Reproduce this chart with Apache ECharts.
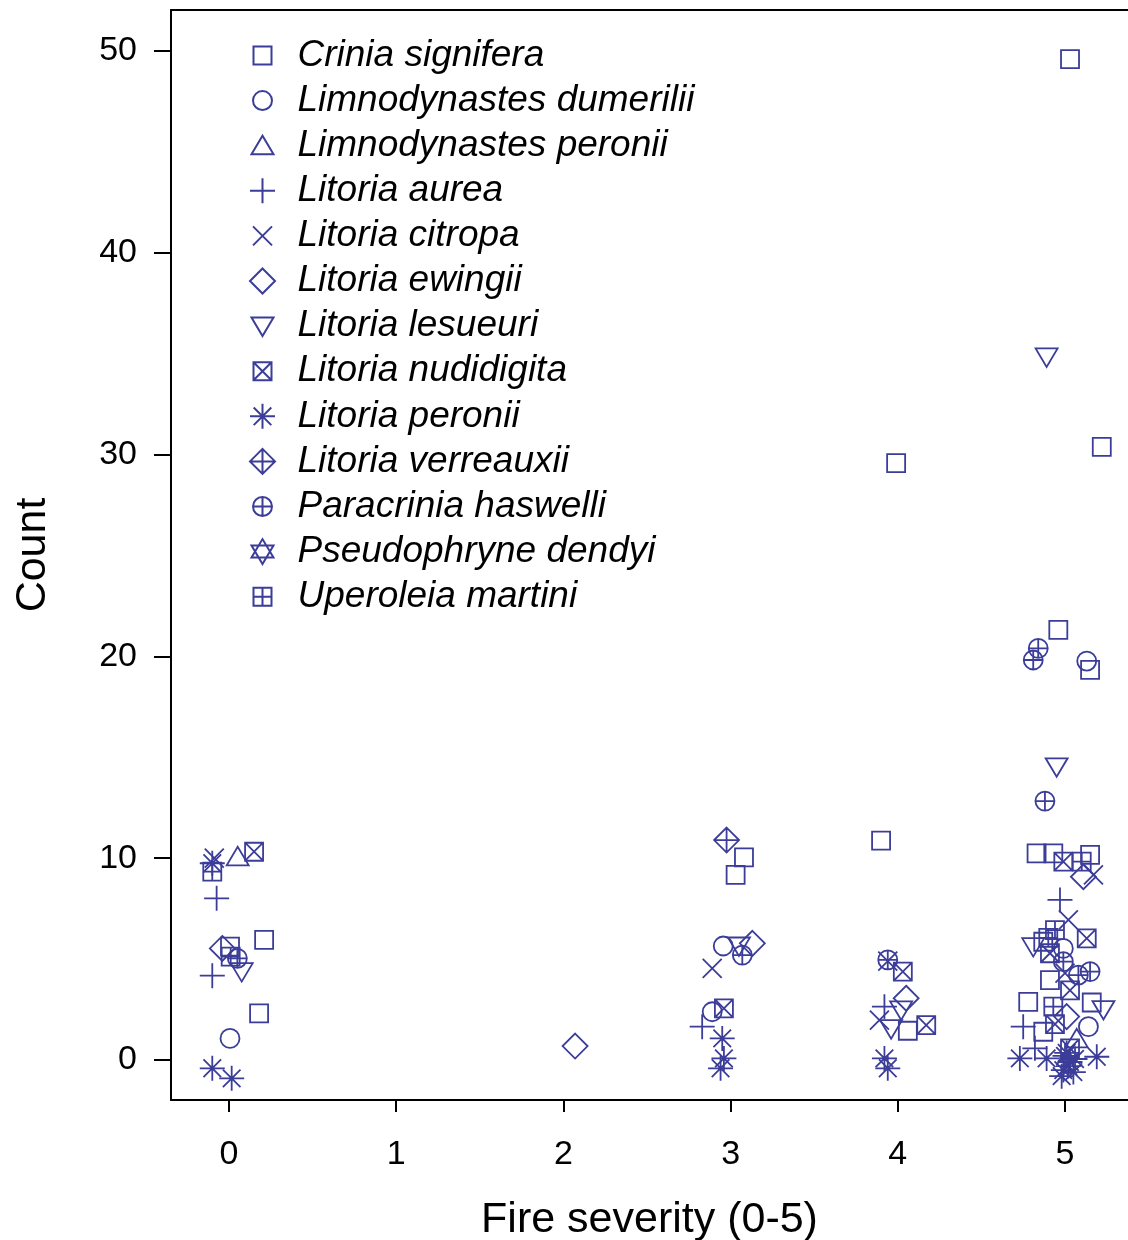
<!DOCTYPE html>
<html>
<head>
<meta charset="utf-8">
<script src="https://cdn.jsdelivr.net/npm/echarts@6/dist/echarts.min.js"></script>
<style>
html,body{margin:0;padding:0;background:#fff;}
#chart{width:1128px;height:1240px;}
</style>
</head>
<body>
<div id="chart"></div>
<script>
// ---- data (x = jittered fire severity, y = jittered count) ----
const xTicks = [0, 1, 2, 3, 4, 5];
const yTicks = [0, 10, 20, 30, 40, 50];
const speciesNames = ['Crinia signifera','Limnodynastes dumerilii','Limnodynastes peronii','Litoria aurea','Litoria citropa','Litoria ewingii','Litoria lesueuri','Litoria nudidigita','Litoria peronii','Litoria verreauxii','Paracrinia haswelli','Pseudophryne dendyi','Uperoleia martini'];

const criniaSignifera = [[0.21,5.95],[0.006,5.62],[0.18,2.31],[3.08,10.04],[3.03,9.17],[3.90,10.87],[3.99,29.58],[4.06,1.45],[5.03,49.6],[5.22,30.38],[4.96,21.31],[5.15,19.33],[4.83,10.24],[4.93,10.24],[5.15,10.16],[4.87,5.86],[4.91,3.96],[4.78,2.88],[5.16,2.85],[4.87,1.4]];
const limnodynastesDumerilii = [[0.006,1.07],[2.956,5.65],[2.89,2.39],[5.13,19.77],[4.99,5.53],[5.14,1.65]];
const limnodynastesPeronii = [[0.052,10.07],[5.07,1.05]];
const litoriaAurea = [[-0.074,8.01],[-0.10,4.18],[2.83,1.65],[3.92,2.64],[4.97,7.93],[4.75,1.65],[4.82,0.58]];
const litoriaCitropa = [[-0.088,10.0],[2.89,4.54],[3.89,1.98],[3.94,4.9],[5.17,9.17],[5.02,6.94],[5.0,4.3]];
const litoriaEwingii = [[-0.04,5.53],[2.07,0.69],[3.13,5.78],[4.05,3.06],[5.11,9.08],[5.01,2.15]];
const litoriaLesueuri = [[0.076,4.38],[3.05,5.65],[4.02,2.48],[3.96,1.55],[4.89,34.84],[4.95,14.53],[4.81,5.62],[5.23,2.5]];
const litoriaNudidigita = [[0.15,10.32],[2.96,2.56],[4.03,4.38],[4.17,1.73],[4.99,9.83],[5.13,6.03],[4.91,5.29],[5.03,3.45],[4.94,1.78],[5.03,0.58]];
const litoriaPeronii = [[-0.10,9.75],[-0.10,-0.41],[0.016,-0.91],[2.95,1.07],[2.96,0.08],[2.94,-0.41],[3.92,0.08],[3.94,-0.41],[4.73,0.08],[4.89,0.08],[5.19,0.16],[5.0,0.2],[5.03,-0.1],[5.06,0.05],[4.99,-0.5],[5.02,-0.3],[4.98,-0.8],[5.05,-0.6],[5.01,0.35]];
const litoriaVerreauxii = [[2.976,10.9]];
const paracriniaHaswelli = [[0.05,5.04],[3.07,5.2],[3.94,4.96],[4.84,20.4],[4.81,19.82],[4.88,12.83],[4.99,4.87],[5.08,4.21],[5.15,4.38]];
const pseudophryneDendyi = [];
const uperoleiaMartini = [[-0.10,9.33],[0.01,5.12],[5.10,9.83],[4.94,6.44],[4.90,6.05],[4.93,2.64]];

const speciesData = [criniaSignifera, limnodynastesDumerilii, limnodynastesPeronii, litoriaAurea, litoriaCitropa, litoriaEwingii, litoriaLesueuri, litoriaNudidigita, litoriaPeronii, litoriaVerreauxii, paracriniaHaswelli, pseudophryneDendyi, uperoleiaMartini];

// ---- symbols (R pch 0..12), drawn in a common 26x26 frame ----
const F = 'M0 0M26 26';
const SQ = 'M4 4L22 4L22 22L4 22Z';
const CI = 'M22.5 13A9.5 9.5 0 1 1 3.5 13A9.5 9.5 0 1 1 22.5 13Z';
const DI = 'M13 0.5L25.5 13L13 25.5L0.5 13Z';
const symbols = [
  F + SQ,
  F + CI,
  F + 'M2 21.5L24 21.5L13 3L2 21.5Z',
  F + 'M13 0.5L13 25.5M0.5 13L25.5 13',
  F + 'M3.5 3.5L22.5 22.5M22.5 3.5L3.5 22.5',
  F + DI,
  F + 'M2 4.5L24 4.5L13 23L2 4.5Z',
  F + SQ + 'M4 4L22 22M22 4L4 22',
  F + 'M13 0.5L13 25.5M0.5 13L25.5 13M4.2 4.2L21.8 21.8M21.8 4.2L4.2 21.8',
  F + DI + 'M13 0.5L13 25.5M0.5 13L25.5 13',
  F + CI + 'M13 3.5L13 22.5M3.5 13L22.5 13',
  F + 'M2 19L24 19L13 0.5L2 19ZM2 7L24 7L13 25.5L2 7Z',
  F + SQ + 'M13 4L13 22M4 13L22 13'
];

const COL = '#3b3d98';
const FONT = 'Liberation Sans, Arial, sans-serif';

const series = speciesNames.map((name, i) => ({
  name: name,
  type: 'scatter',
  data: speciesData[i],
  symbol: 'path://' + symbols[i],
  symbolSize: 26,
  itemStyle: { color: 'none', borderColor: COL, borderWidth: 1.8, opacity: 1 },
  emphasis: { disabled: true },
  silent: true,
  animation: false
}));

const chart = echarts.init(document.getElementById('chart'), null, { renderer: 'canvas' });
chart.setOption({
  backgroundColor: '#fff',
  animation: false,
  grid: { left: 171, top: 10, bottom: 140, right: 0, show: false, containLabel: false, outerBoundsMode: 'none' },
  legend: {
    orient: 'vertical',
    left: 242, top: 32,
    itemWidth: 26, itemHeight: 26, itemGap: 8.1,
    selectedMode: false,
    data: speciesNames,
    textStyle: { fontFamily: FONT, fontSize: 37, fontStyle: 'italic', color: '#000', padding: [0, 0, 0, 17] }
  },
  xAxis: [{
    type: 'value',
    min: -0.3469, max: 5.3768,
    name: 'Fire severity (0-5)',
    nameLocation: 'middle', nameGap: 99,
    nameTextStyle: { fontFamily: FONT, fontSize: 43, color: '#000' },
    axisLine: { show: true, onZero: false, lineStyle: { color: '#000', width: 2 } },
    splitLine: { show: false },
    axisTick: { show: true, inside: false, length: 12, lineStyle: { color: '#000', width: 2 }, customValues: xTicks },
    axisLabel: { margin: 38, fontFamily: FONT, fontSize: 34, color: '#000', customValues: xTicks }
  }, {
    type: 'value',
    position: 'top',
    min: -0.3469, max: 5.3768,
    axisLine: { show: true, onZero: false, lineStyle: { color: '#000', width: 2 } },
    splitLine: { show: false },
    axisTick: { show: false },
    axisLabel: { show: false }
  }],
  yAxis: {
    type: 'value',
    min: -1.982, max: 52.03,
    name: 'Count',
    nameLocation: 'middle', nameGap: 116, nameRotate: 90,
    nameTextStyle: { fontFamily: FONT, fontSize: 43, color: '#000' },
    axisLine: { show: true, onZero: false, lineStyle: { color: '#000', width: 2 } },
    splitLine: { show: false },
    axisTick: { show: true, inside: false, length: 17, lineStyle: { color: '#000', width: 2 }, customValues: yTicks },
    axisLabel: { margin: 34, fontFamily: FONT, fontSize: 34, color: '#000', customValues: yTicks }
  },
  series: series
});
</script>
</body>
</html>
